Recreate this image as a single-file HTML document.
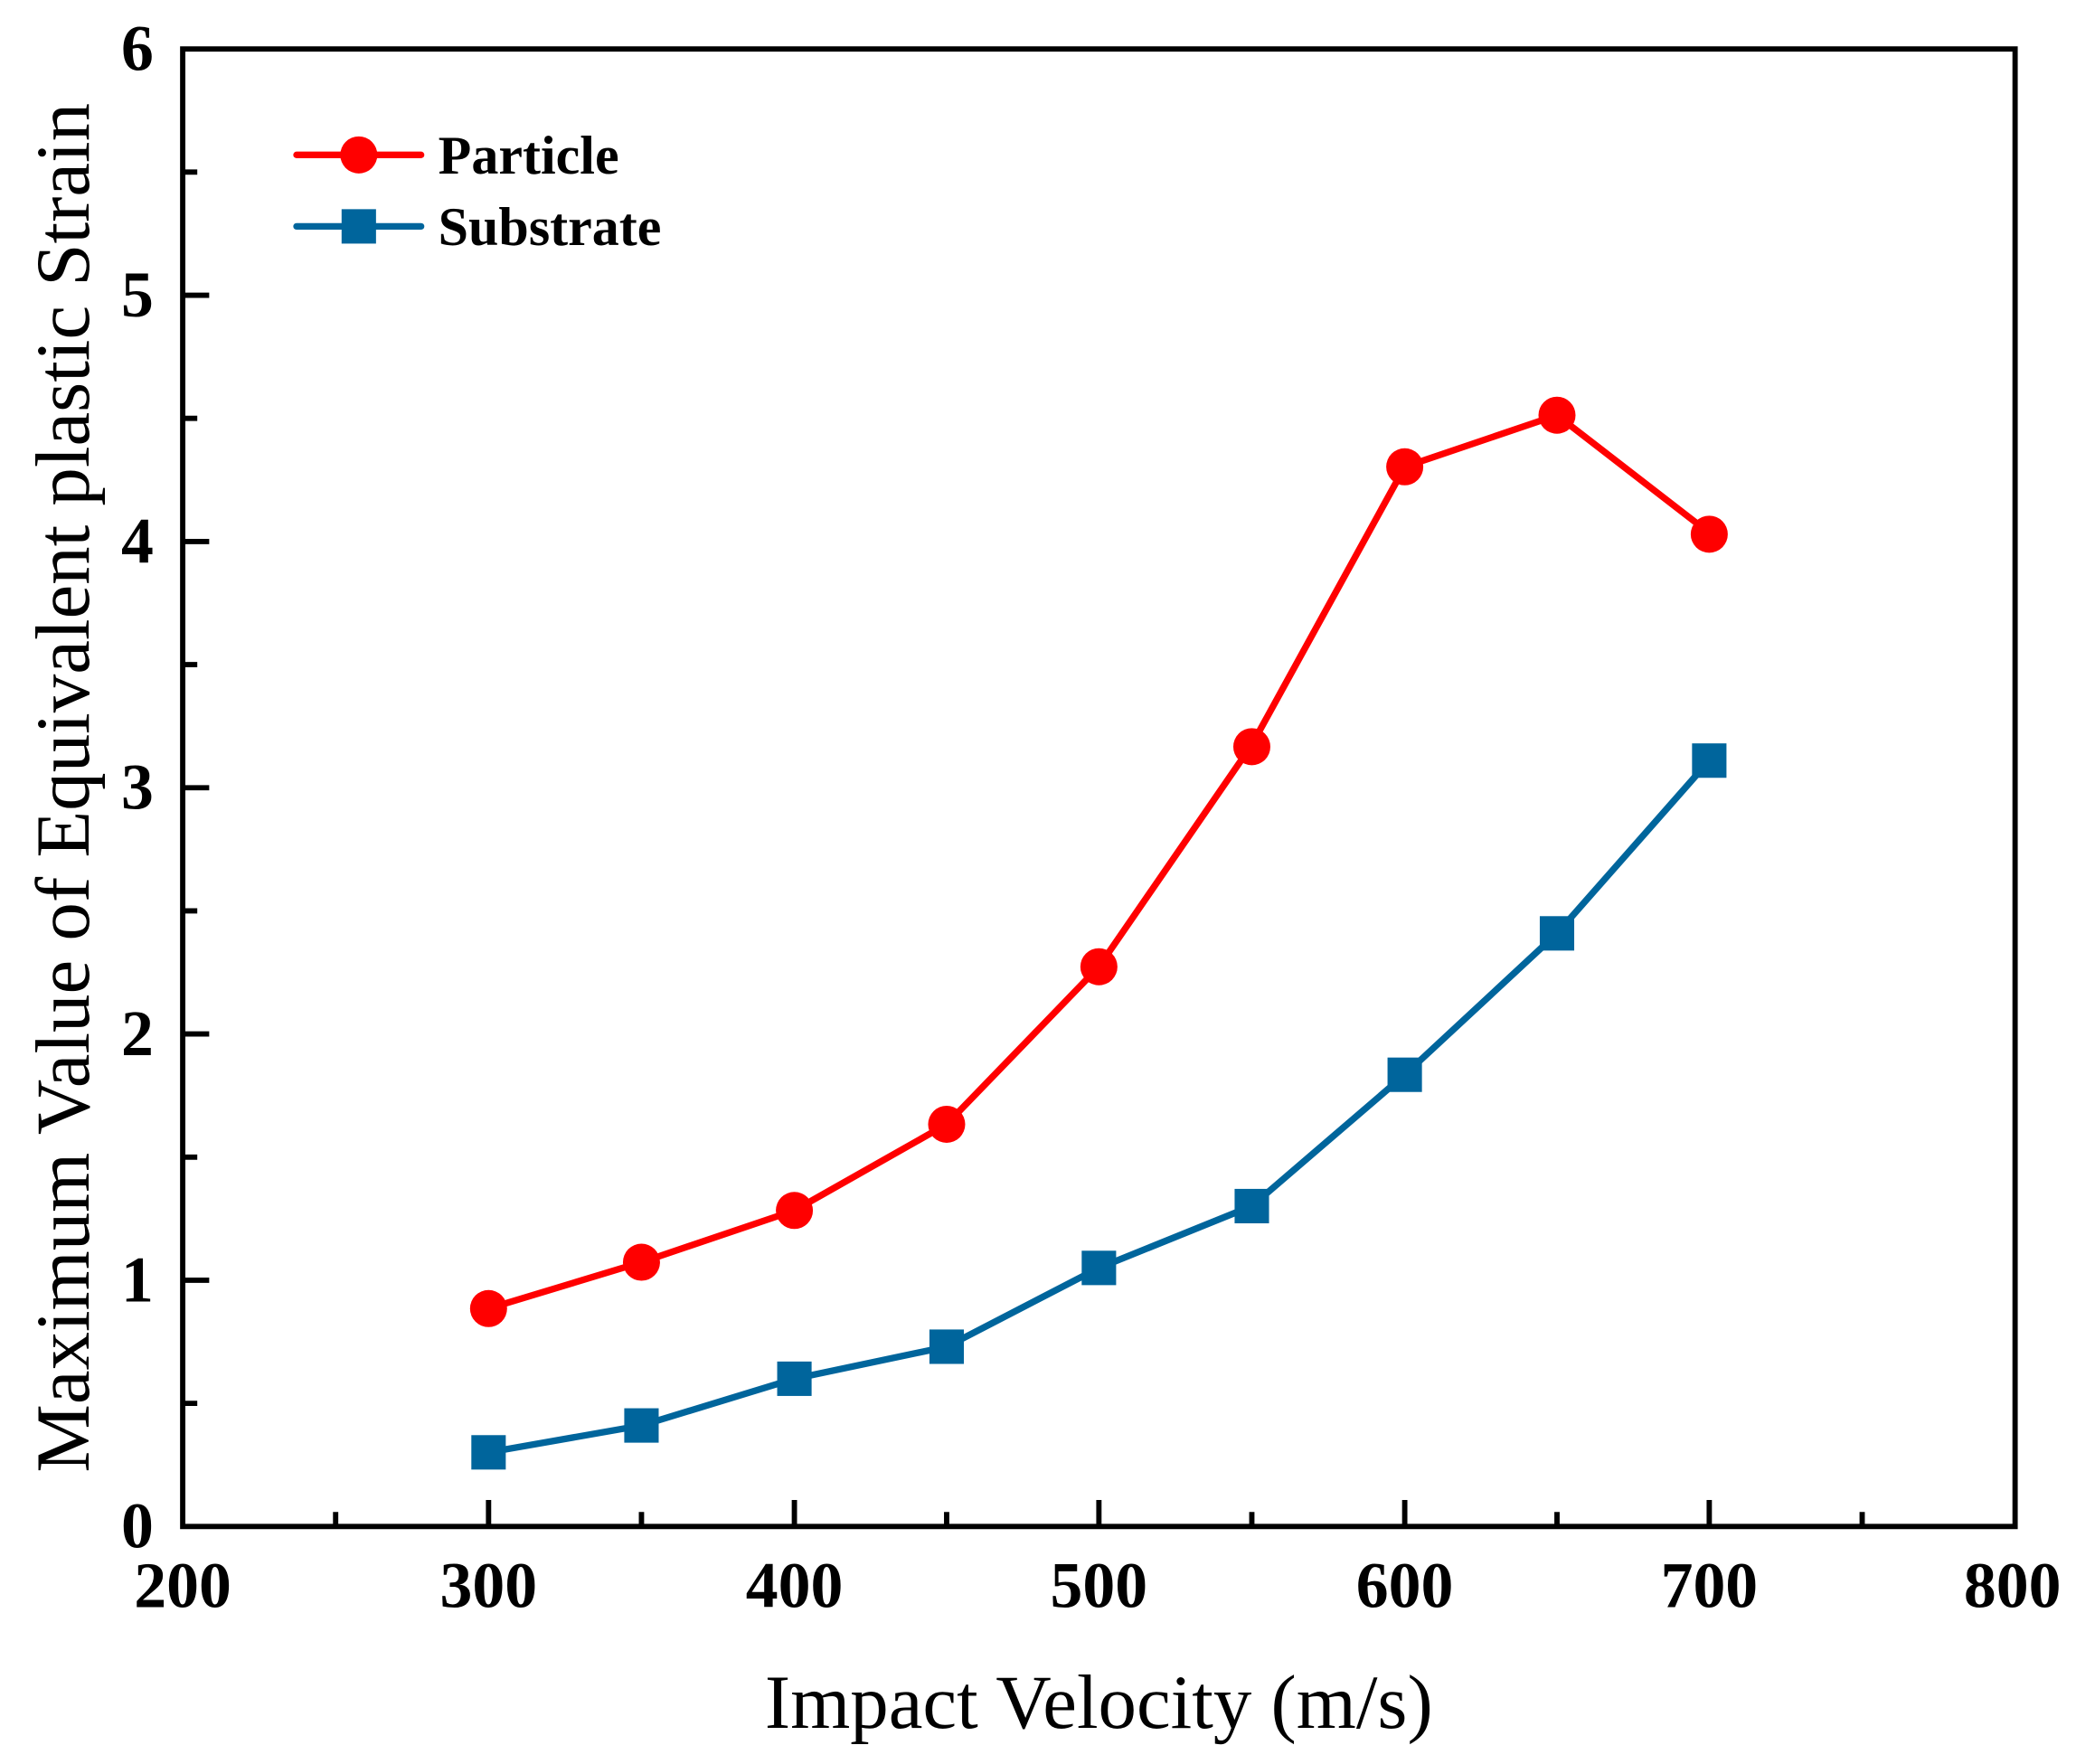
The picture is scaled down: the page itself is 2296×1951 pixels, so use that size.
<!DOCTYPE html>
<html><head><meta charset="utf-8"><style>html,body{margin:0;padding:0;background:#fff}svg{display:block}</style></head>
<body>
<svg width="2296" height="1951" viewBox="0 0 1568 1332.4" xmlns="http://www.w3.org/2000/svg" font-family="'Liberation Serif',serif">
<rect width="1568" height="1333" fill="#fff"/>
<g stroke="#000" stroke-width="4" fill="none">
<rect x="138" y="37" width="1384" height="1116"/>
<path d="M369,1153v-20M600,1153v-20M830,1153v-20M1061,1153v-20M1291,1153v-20M253.5,1153v-11M484.5,1153v-11M715,1153v-11M945.5,1153v-11M1176,1153v-11M1406.5,1153v-11"/>
<path d="M138,967h20M138,781h20M138,595h20M138,409h20M138,223h20M138,1060h11M138,874h11M138,688h11M138,502h11M138,316h11M138,130h11"/>
</g>
<g font-weight="bold" font-size="49" text-anchor="middle">
<text x="138" y="1214">200</text><text x="369" y="1214">300</text><text x="600" y="1214">400</text><text x="830" y="1214">500</text><text x="1061" y="1214">600</text><text x="1291" y="1214">700</text><text x="1520" y="1214">800</text>
</g>
<g font-weight="bold" font-size="49" text-anchor="end">
<text x="116" y="1169">0</text><text x="116" y="983">1</text><text x="116" y="797">2</text><text x="116" y="611">3</text><text x="116" y="425">4</text><text x="116" y="239">5</text><text x="116" y="53">6</text>
</g>
<text x="830" y="1305" font-size="58" text-anchor="middle">Impact Velocity (m/s)</text>
<text transform="translate(67,595) rotate(-90)" font-size="58" text-anchor="middle">Maximum Value of Equivalent plastic Strain</text>
<polyline fill="none" stroke="#ff0000" stroke-width="5" points="369,988.4 484.5,953.4 600,914.3 715,849.2 830,730.2 945.5,562.6 1061,352.6 1176,313.6 1291,402.5"/>
<g fill="#ff0000">
<circle cx="369" cy="988.4" r="14"/><circle cx="484.5" cy="953.4" r="14"/><circle cx="600" cy="914.3" r="14"/><circle cx="715" cy="849.2" r="14"/><circle cx="830" cy="730.2" r="14"/><circle cx="945.5" cy="564" r="14"/><circle cx="1061" cy="352.6" r="14"/><circle cx="1176" cy="313.6" r="14"/><circle cx="1291" cy="403.5" r="14"/>
</g>
<polyline fill="none" stroke="#00659c" stroke-width="5" points="369,1097 484.5,1076.7 600,1041.4 715,1017.2 830,957.7 945.5,911 1061,811.8 1176,705 1291,574.5"/>
<g fill="#00659c">
<rect x="356" y="1084" width="26" height="26"/><rect x="471.5" y="1063.7" width="26" height="26"/><rect x="587" y="1028.4" width="26" height="26"/><rect x="702" y="1004.2" width="26" height="26"/><rect x="817" y="944.7" width="26" height="26"/><rect x="932.5" y="898" width="26" height="26"/><rect x="1048" y="798.8" width="26" height="26"/><rect x="1163" y="692" width="26" height="26"/><rect x="1278" y="561.5" width="26" height="26"/>
</g>
<line x1="224" y1="117" x2="318" y2="117" stroke="#ff0000" stroke-width="5" stroke-linecap="round"/>
<circle cx="271" cy="117" r="14" fill="#ff0000"/>
<line x1="224" y1="171" x2="318" y2="171" stroke="#00659c" stroke-width="5" stroke-linecap="round"/>
<rect x="258" y="158" width="26" height="26" fill="#00659c"/>
<g font-weight="bold" font-size="41">
<text x="331" y="131">Particle</text>
<text x="331" y="185">Substrate</text>
</g>
</svg>
</body></html>
